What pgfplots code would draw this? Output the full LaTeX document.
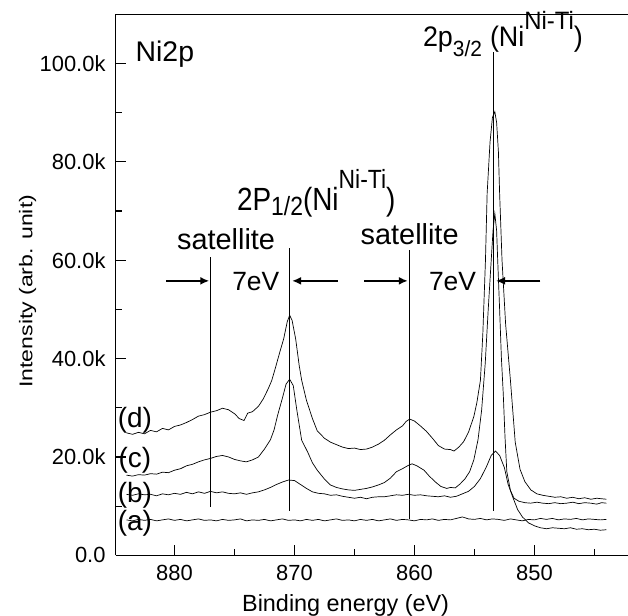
\documentclass[border=0pt]{standalone}
\usepackage{fontspec}
\setmainfont{Liberation Sans}
\usepackage{pgfplots}
\pgfplotsset{compat=1.18}
\usetikzlibrary{arrows.meta}
\newcommand{\fs}[1]{\fontsize{#1}{#1}\selectfont}
\begin{document}
\begin{tikzpicture}
\begin{axis}[
  scale only axis, width=512.3bp, height=541bp,
  x dir=reverse, xmin=842.2, xmax=884.9, ymin=0, ymax=110,
  axis x line=box, axis y line=left,
  x axis line style={-}, y axis line style={-},
  axis line style={line width=1.3pt, black},
  xtick={850,860,870,880}, xticklabels={850,860,870,880},
  minor xtick={845,855,865,875},
  ytick={0,20,40,60,80,100}, yticklabels={0.0,20.0k,40.0k,60.0k,80.0k,100.0k},
  minor ytick={10,30,50,70,90},
  tick align=inside, xtick pos=left, ytick pos=left,
  major tick length=10bp, minor tick length=6bp,
  major tick style={line width=1.2pt, black},
  minor tick style={line width=1.2pt, black},
  ticklabel style={font=\fs{22}},
  xticklabel style={inner sep=0pt, anchor=north, yshift=-9.7bp},
  yticklabel style={inner sep=0pt, anchor=east, xshift=-10bp},
  xlabel={Binding energy (eV)}, ylabel={\scalebox{1.25}[1]{Intensity (arb. unit)}},
  every axis x label/.style={at={(axis description cs:0.4488,-0.1036)}, anchor=base, inner sep=0pt, font=\fs{23.5}},
  every axis y label/.style={at={(axis description cs:-0.1628,0.488)}, rotate=90, anchor=base, inner sep=0pt, font=\fs{18.5}},
  clip=false,
]
\coordinate (sw) at (rel axis cs:0,0);
\coordinate (ne) at (rel axis cs:1,1);
% (a)
\addplot[black, line width=0.7pt] coordinates {
(884,7.2)(883.5,7.0)(883,7.3)(882.5,7.1)(882,7.3)(881.5,7.0)(881,7.2)(880.5,7.4)(880,7.1)(879.5,7.3)
(879,7.0)(878.5,7.2)(878,7.4)(877.5,7.1)(877,7.2)(876.5,7.0)(876,7.3)(875.5,7.1)(875,7.2)(874.5,7.4)
(874,7.0)(873.5,7.2)(873,7.1)(872.5,7.3)(872,7.0)(871.5,7.2)(871,7.4)(870.5,7.1)(870,7.2)(869.5,7.0)
(869,7.3)(868.5,7.1)(868,7.3)(867.5,7.0)(867,7.2)(866.5,7.4)(866,7.1)(865.5,7.2)(865,7.0)(864.5,7.3)
(864,7.1)(863.5,7.3)(863,7.0)(862.5,7.2)(862,7.4)(861.5,7.1)(861,7.3)(860.5,7.2)(860,7.0)(859.5,7.3)
(859,7.2)(858.5,7.4)(858,7.1)(857.5,7.3)(857,7.2)(856.5,7.5)(856,7.8)(855.5,7.4)(855,7.3)(854.5,7.5)
(854,7.2)(853.5,7.4)(853,7.3)(852.5,7.1)(852,7.4)(851.5,7.2)(851,7.0)(850.5,7.3)(850,7.2)(849.5,7.5)
(849,7.3)(848.5,7.5)(848,7.2)(847.5,7.4)(847,7.3)(846.5,7.5)(846,7.2)(845.5,7.4)(845,7.3)(844.5,7.2)(844,7.3)
};
% (b)
\addplot[black, line width=0.7pt] coordinates {
(884,12.4)(883.5,12.2)(883,12.5)(882.5,12.3)(882,12.4)(881.5,12.1)(881,12.5)(880.5,12.3)(880,12.6)(879.5,12.4)
(879,12.8)(878.5,12.5)(878,12.9)(877.5,12.6)(877,13.0)(876.5,12.7)(876,12.9)(875.5,12.6)(875,12.5)(874.5,12.7)
(874,12.4)(873.5,12.7)(873,12.9)(872.5,13.3)(872,13.8)(871.5,14.4)(871,14.9)(870.5,15.3)(870,15.2)(869.5,14.4)
(869,13.6)(868.5,12.9)(868,12.6)(867.5,12.5)(867,12.2)(866.5,12.3)(866,12.0)(865.5,11.8)(865,11.6)(864.5,11.8)
(864,11.5)(863.5,11.8)(863,11.9)(862.5,11.9)(862,12.1)(861.5,12.3)(861,12.2)(860.5,12.4)(860,12.2)(859.5,12.3)
(859,12.1)(858.5,12.0)(858,11.9)(857.5,12.1)(857,11.8)(856.5,12.0)(856,12.5)(855.5,13.0)(855,14.0)(854.5,15.6)
(854,18.0)(853.6,20.3)(853.25,21.2)(852.9,20.3)(852.5,17.8)(852.2,14.5)(851.8,11.8)(851.4,9.3)(851,7.8)(850.5,6.6)
(850,6.0)(849.5,5.6)(849,5.4)(848.5,5.6)(848,5.5)(847.5,5.4)(847,5.6)(846.5,5.3)(846,5.4)(845.5,5.2)(845,5.3)(844.5,5.1)(844,5.2)
};
% (c)
\addplot[black, line width=0.7pt] coordinates {
(884,16.3)(883.5,16.1)(883,16.4)(882.5,16.3)(882,16.6)(881.5,16.5)(881,16.9)(880.5,16.8)(880,17.3)(879.5,17.6)
(879,18.2)(878.5,18.5)(878,19.0)(877.5,19.4)(877,19.7)(876.5,20.1)(876,20.3)(875.5,20.0)(875,19.5)(874.5,19.2)
(874,19.0)(873.5,19.4)(873,20.0)(872.5,21.6)(872,23.5)(871.7,25.5)(871.4,28.5)(871,32.0)(870.7,34.8)(870.4,35.8)
(870.1,34.5)(869.8,29.5)(869.4,23.4)(868.9,21.0)(868.5,18.8)(868.1,17.3)(867.5,15.5)(867,14.3)(866.5,13.8)(866,13.5)
(865.5,13.3)(865,13.2)(864.5,13.4)(864,13.6)(863.5,13.9)(863,14.3)(862.5,14.8)(862,15.7)(861.5,17.0)(861,17.6)
(860.5,18.3)(860.2,18.6)(859.8,18.2)(859.2,17.3)(858.8,16.2)(858.3,15.0)(857.8,14.0)(857.3,13.6)(857,13.8)(856.6,13.7)
(856.2,14.5)(855.8,15.5)(855.4,17.0)(855.05,19.4)(854.7,23.5)(854.4,29.5)(854.1,39)(853.85,50)(853.6,60)(853.45,66)
(853.3,69.5)(853.15,66)(853.06,60)(852.9,50)(852.75,40)(852.6,33)(852.45,24)(852.3,17)(852.0,13.2)(851.7,11.6)
(851.3,11.0)(850.8,10.7)(850.3,10.6)(849.8,10.8)(849.3,10.6)(848.8,10.5)(848.3,10.7)(847.8,10.5)(847.3,10.6)(846.8,10.8)
(846.3,10.5)(845.8,10.7)(845.3,10.6)(844.8,10.4)(844.4,10.7)(844,10.6)
};
% (d)
\addplot[black, line width=0.7pt] coordinates {
(884,24.9)(883.5,24.6)(883,25.0)(882.5,24.7)(882,25.4)(881.5,25.1)(881,25.8)(880.5,25.5)(880,26.2)(879.5,26.5)
(879,27.0)(878.5,27.6)(878,28.3)(877.5,28.6)(877,29.1)(876.5,29.4)(876,29.9)(875.5,29.6)(875,28.8)(874.6,27.8)
(874.2,27.4)(873.9,28.9)(873.5,29.2)(873,30.3)(872.6,31.8)(872.2,33.8)(871.9,35.5)(871.6,38.0)(871.2,41.5)(870.9,44.0)
(870.6,47.5)(870.4,48.8)(870.2,47.8)(869.9,44.0)(869.6,38.5)(869.4,35.6)(869.0,31.5)(868.5,27.8)(868.1,25.3)(867.5,23.8)
(867,23.0)(866.5,22.5)(866,22.0)(865.5,21.7)(865,21.8)(864.5,21.5)(864,21.6)(863.5,22.0)(863,22.6)(862.5,23.4)
(862,24.5)(861.5,25.5)(861,26.3)(860.7,27.2)(860.4,27.7)(860,27.3)(859.5,26.3)(859,25.2)(858.5,23.8)(858,22.3)
(857.5,21.6)(857,21.5)(856.7,21.2)(856.3,22.0)(855.9,23.1)(855.5,25.0)(855.05,28.2)(854.8,31.0)(854.5,35.6)(854.3,45.0)
(854.08,60.0)(853.94,73.6)(853.7,84.0)(853.5,89.0)(853.3,90.2)(853.15,88.0)(853.0,82.0)(852.9,73.6)(852.7,60.0)(852.4,47.0)
(852.0,35.6)(851.6,23.0)(851.2,17.5)(850.8,15.0)(850.3,13.3)(849.8,12.5)(849.3,12.2)(848.8,12.0)(848.3,11.8)(847.8,11.9)
(847.3,11.6)(846.8,11.8)(846.3,11.5)(845.8,11.7)(845.3,11.4)(844.8,11.6)(844.4,11.5)(844,11.4)
};
% vertical marker lines
\addplot[black, line width=1.6pt] coordinates {(877,9.9)(877,60.6)};
\addplot[black, line width=1.6pt] coordinates {(870.4,9.1)(870.4,62.4)};
\addplot[black, line width=1.6pt] coordinates {(860.4,7.3)(860.4,62.0)};
\addplot[black, line width=1.6pt] coordinates {(853.4,9.1)(853.4,102.4)};
% arrows
\addplot[black, line width=1.8pt, -{Latex[length=9bp,width=8bp]}] coordinates {(880.7,55.8)(877.1,55.8)};
\addplot[black, line width=1.8pt, -{Latex[length=9bp,width=8bp]}] coordinates {(866.4,55.8)(870.2,55.8)};
\addplot[black, line width=1.8pt, -{Latex[length=9bp,width=8bp]}] coordinates {(864.2,55.8)(860.55,55.8)};
\addplot[black, line width=1.8pt, -{Latex[length=9bp,width=8bp]}] coordinates {(849.5,55.8)(853.2,55.8)};
% texts
\node[anchor=base west, inner sep=0pt, font=\fs{28.5}] at (axis cs:883.25,100.5) {Ni2p};
\node[anchor=base west, inner sep=0pt, font=\fs{27}, yscale=1.05] at (axis cs:859.3,103.4)
  {2p\raisebox{-9bp}{\fs{21}3/2}\hspace{8bp}(Ni\raisebox{16.7bp}{\fs{24}Ni-Ti})};
\node[anchor=base west, inner sep=0pt, font=\fs{28}, yscale=1.15] at (axis cs:874.8,70.2)
  {2P\raisebox{-5bp}{\fs{23}1/2}(Ni\raisebox{19bp}{\fs{23}Ni-Ti})};
\node[anchor=base west, inner sep=0pt, font=\fs{29}] at (axis cs:879.8,62.1) {satellite};
\node[anchor=base west, inner sep=0pt, font=\fs{29}] at (axis cs:864.5,63.1) {satellite};
\node[anchor=base west, inner sep=0pt, font=\fs{26.5}] at (axis cs:875.2,53.9) {7eV};
\node[anchor=base west, inner sep=0pt, font=\fs{26.5}] at (axis cs:858.8,53.9) {7eV};
\node[inner sep=0pt, font=\fs{28}] at (axis cs:883.3,27.5) {(d)};
\node[inner sep=0pt, font=\fs{28}] at (axis cs:883.3,19.4) {(c)};
\node[inner sep=0pt, font=\fs{28}] at (axis cs:883.3,12.3) {(b)};
\node[inner sep=0pt, font=\fs{28}] at (axis cs:883.3,6.5) {(a)};
\end{axis}
\pgfresetboundingbox
\path ([shift={(-115.7bp,-60.7bp)}]sw) rectangle ([shift={(0bp,14.3bp)}]ne);
\end{tikzpicture}
\end{document}
